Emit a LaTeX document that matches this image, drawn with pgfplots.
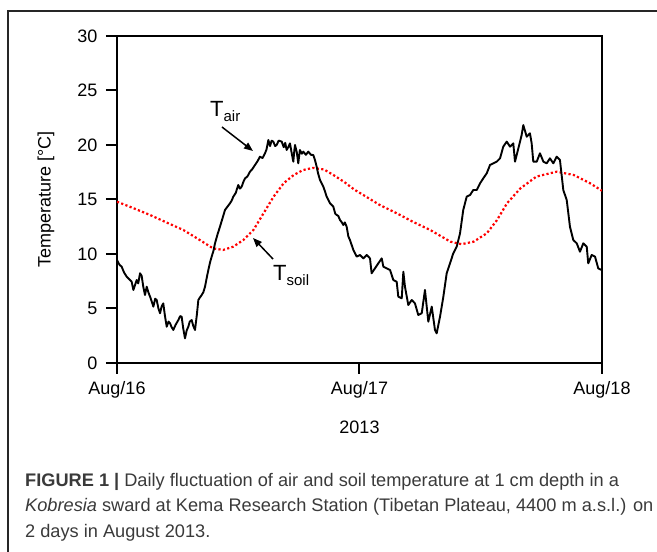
\documentclass[border=0pt]{standalone}
\usepackage{fontspec}
\setmainfont{Liberation Sans}
\usepackage{pgfplots}
\pgfplotsset{compat=1.18}
\usetikzlibrary{arrows.meta}
\definecolor{captext}{HTML}{3A3A3A}
\begin{document}
\begin{tikzpicture}[x=1pt,y=1pt]
\useasboundingbox (0,0) rectangle (657,552);
\draw[line width=1.1pt, black!85] (8,0) -- (8,541) -- (657,541);
\begin{axis}[
  at={(117pt,189pt)}, anchor=south west,
  scale only axis, width=485pt, height=327pt,
  xmin=0, xmax=48, ymin=0, ymax=30,
  xtick={0,24,48}, xticklabels={Aug/16,Aug/17,Aug/18},
  ytick={0,5,10,15,20,25,30},
  xtick pos=bottom, ytick pos=left,
  tick align=outside, major tick length=11pt,
  tick style={black, line width=2pt},
  axis line style={line width=2.4pt},
  /pgf/number format/assume math mode=true,
  tick label style={font=\fontsize{18}{18}\selectfont},
  yticklabel style={xshift=-5pt},
  xticklabel style={yshift=-4pt},
  label style={font=\fontsize{18}{18}\selectfont},
  xlabel={2013},
  xlabel style={at={(axis description cs:0.5,-0.1957)}, anchor=center},
  ylabel={Temperature [°C]},
  ylabel style={at={(axis description cs:-0.1464,0.5)}, anchor=center},
  clip=true,
]
\addplot[red, line width=2.2pt, dash pattern=on 2.2pt off 2.3pt] coordinates {
(0,14.8)(1.5,14.25)(3.27,13.58)(5,12.85)(6.57,12.2)(8.2,11.28)(9.5,10.52)(10.5,10.37)(11.5,10.67)(12.5,11.28)(13.5,12.2)(14.5,13.73)(15.5,15.26)(16.5,16.5)(17.5,17.25)(18.4,17.7)(19.4,17.9)(20.5,17.75)(21.5,17.2)(22.5,16.6)(23.5,15.9)(24.4,15.4)(26,14.5)(27.7,13.73)(29.3,12.95)(31,12.2)(33,11.13)(34.1,10.9)(35.3,11.13)(36.6,11.9)(37.6,13.1)(38.6,14.65)(39.9,16.0)(41.5,17.1)(43.5,17.55)(45.2,17.25)(46.8,16.5)(48,15.8)
};
\addplot[black, line width=1.9pt, line join=round] coordinates {
(0,9.45)(0.25,9.0)(0.46,8.84)(0.7,8.3)(0.96,7.92)(1.2,7.7)(1.45,7.46)(1.62,6.7)(1.8,7.2)(1.95,7.61)(2.1,7.3)(2.28,8.23)(2.44,8.0)(2.6,7.0)(2.77,6.24)(2.94,7.0)(3.1,6.5)(3.27,6.09)(3.45,5.6)(3.6,5.17)(3.78,5.9)(3.93,5.78)(4.1,5.0)(4.26,4.56)(4.42,5.2)(4.58,5.47)(4.75,4.3)(4.92,3.33)(5.1,3.8)(5.25,3.64)(5.4,3.3)(5.57,3.03)(5.8,3.5)(6.07,3.94)(6.25,4.3)(6.4,4.25)(6.55,3.2)(6.73,2.26)(6.9,3.0)(7.06,3.33)(7.2,3.8)(7.39,3.94)(7.55,3.4)(7.72,3.03)(7.9,4.4)(8.05,5.78)(8.2,6.0)(8.38,6.24)(8.55,6.5)(8.71,7.0)(8.9,7.9)(9.04,8.53)(9.2,9.2)(9.37,9.76)(9.55,10.3)(9.7,10.98)(9.95,11.8)(10.19,12.5)(10.45,13.3)(10.69,14.04)(10.9,14.3)(11.18,14.65)(11.35,14.9)(11.51,15.26)(11.75,15.6)(12.0,16.33)(12.17,16.0)(12.34,16.18)(12.5,16.6)(12.67,16.94)(12.9,17.1)(13.16,17.55)(13.4,17.8)(13.66,18.17)(13.9,18.5)(14.15,18.93)(14.4,18.8)(14.65,19.24)(14.8,19.6)(14.98,20.46)(15.15,19.9)(15.3,20.4)(15.47,20.31)(15.65,19.9)(15.8,20.0)(16.0,20.4)(16.3,20.31)(16.5,19.8)(16.65,20.2)(16.79,19.54)(16.95,19.8)(17.12,20.15)(17.3,19.2)(17.45,18.47)(17.55,19.5)(17.62,20.0)(17.8,19.3)(17.94,18.32)(18.1,19.54)(18.3,19.2)(18.44,19.39)(18.7,19.1)(18.93,19.39)(19.2,19.1)(19.43,19.08)(19.6,18.6)(19.76,18.01)(19.9,17.4)(20.09,16.79)(20.25,16.5)(20.42,16.18)(20.6,15.7)(20.75,15.26)(20.9,15.0)(21.08,14.65)(21.25,14.5)(21.41,14.34)(21.6,13.7)(21.74,13.58)(21.9,13.5)(22.07,13.12)(22.25,12.9)(22.4,12.66)(22.55,12.9)(22.73,12.5)(22.9,11.6)(23.06,11.28)(23.39,10.37)(23.72,9.76)(24.05,9.91)(24.38,9.6)(24.71,9.91)(25.04,9.6)(25.2,8.23)(25.53,8.68)(25.86,9.14)(26.2,9.6)(26.36,8.84)(26.69,8.68)(27.02,8.53)(27.35,7.61)(27.68,7.46)(27.84,6.09)(28.18,5.93)(28.34,8.38)(28.5,7.0)(28.83,5.32)(29.17,5.78)(29.49,5.47)(29.82,4.4)(30.16,4.56)(30.48,6.7)(30.81,3.79)(31.15,5.17)(31.47,3.03)(31.64,2.72)(31.97,4.25)(32.3,6.09)(32.63,8.23)(32.96,9.14)(33.28,10.06)(33.62,10.67)(33.95,11.9)(34.27,14.04)(34.61,15.26)(34.94,15.41)(35.26,15.87)(35.6,15.87)(35.93,16.48)(36.25,16.94)(36.59,17.4)(36.92,18.17)(37.24,18.32)(37.58,18.47)(37.91,18.78)(38.23,19.85)(38.57,20.31)(38.9,19.85)(39.22,20.15)(39.39,18.47)(39.72,19.69)(40.05,20.92)(40.21,21.83)(40.55,20.76)(40.87,21.07)(41.04,20.15)(41.2,18.47)(41.54,18.47)(41.86,19.24)(42.2,18.47)(42.53,18.32)(42.85,18.78)(43.18,18.32)(43.52,18.93)(43.84,18.62)(44.17,15.87)(44.51,14.95)(44.83,12.5)(45.16,11.28)(45.5,10.98)(45.82,10.21)(46.15,10.98)(46.49,10.67)(46.64,9.14)(46.98,9.91)(47.31,9.76)(47.63,8.68)(47.97,8.53)
};
\node[anchor=base west, inner sep=0pt] at (axis cs:9.2,22.57) {\fontsize{22}{22}\selectfont T\raisebox{-5pt}{\fontsize{15}{15}\selectfont air}};
\draw[line width=1.5pt, -{Triangle[length=9pt,width=7pt]}] (axis cs:10.39,21.65) -- (axis cs:13.46,19.45);
\node[anchor=base west, inner sep=0pt] at (axis cs:15.44,7.61) {\fontsize{22}{22}\selectfont T\raisebox{-5pt}{\fontsize{15}{15}\selectfont soil}};
\draw[line width=1.5pt, -{Triangle[length=9pt,width=7pt]}] (axis cs:15.44,9.54) -- (axis cs:13.46,11.47);
\end{axis}
\node[anchor=base west, inner sep=0pt, text=captext, font=\fontsize{18.2}{18.2}\selectfont] at (25,65) {\textbf{FIGURE 1} \textbf{|} Daily fluctuation of air and soil temperature at 1 cm depth in a};
\node[anchor=base west, inner sep=0pt, text=captext, font=\fontsize{18.2}{18.2}\selectfont] at (25,40) {\textit{Kobresia} sward at Kema Research Station (Tibetan Plateau, 4400 m a.s.l.) on};
\node[anchor=base west, inner sep=0pt, text=captext, font=\fontsize{18.2}{18.2}\selectfont] at (25,14) {2 days in August 2013.};
\end{tikzpicture}
\end{document}
